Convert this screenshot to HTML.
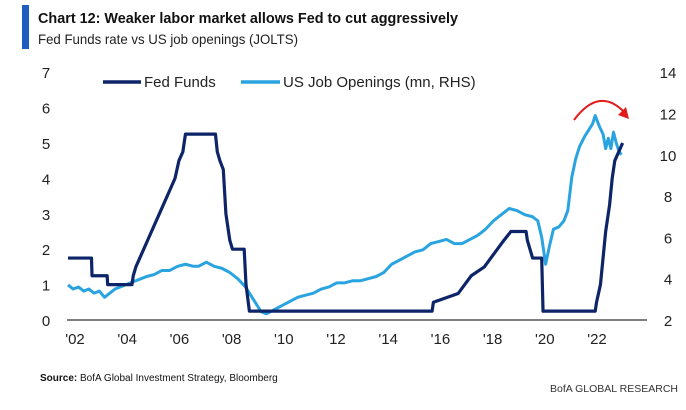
<!DOCTYPE html>
<html><head><meta charset="utf-8"><style>
body{margin:0;background:#fff;width:686px;height:405px;overflow:hidden;font-family:"Liberation Sans",sans-serif}
</style></head><body>
<svg width="686" height="405" xmlns="http://www.w3.org/2000/svg">
<rect x="22" y="5" width="7" height="44" fill="#1f5fbf"/>
<text x="38" y="23" font-size="14.5" font-weight="bold" fill="#111" textLength="420" lengthAdjust="spacingAndGlyphs">Chart 12: Weaker labor market allows Fed to cut aggressively</text>
<text x="38" y="44" font-size="14" fill="#222" textLength="260" lengthAdjust="spacingAndGlyphs">Fed Funds rate vs US job openings (JOLTS)</text>
<g id="axes"></g>
<g id="series"></g>
<g>
<line x1="103" y1="82" x2="141" y2="82" stroke="#0d2468" stroke-width="3.5"/>
<text x="144" y="87" font-size="15" fill="#222">Fed Funds</text>
<line x1="241" y1="82" x2="280" y2="82" stroke="#2aa4e0" stroke-width="3.5"/>
<text x="283" y="87" font-size="15" fill="#222">US Job Openings (mn, RHS)</text>
</g>
<path d="M574,120 Q600,85 626,114" fill="none" stroke="#e21b1b" stroke-width="2"/>
<polygon points="629,119 618,115 626,107" fill="#e21b1b"/>
<text x="40" y="381" font-size="10" fill="#111"><tspan font-weight="bold">Source:</tspan> BofA Global Investment Strategy, Bloomberg</text>
<text x="678" y="392" font-size="10.5" fill="#333" text-anchor="end">BofA GLOBAL RESEARCH</text>
</svg>
<script>
const leftTicks=[0,1,2,3,4,5,6,7];
const rightTicks=[2,4,6,8,10,12,14];
const xTicks=[2002,2004,2006,2008,2010,2012,2014,2016,2018,2020,2022];
const fedYears=[2002,2002.9,2002.92,2003.5,2003.52,2004.45,2004.5,2004.6,2004.75,2004.9,2005.05,2005.2,2005.35,2005.5,2005.65,2005.8,2005.95,2006.1,2006.25,2006.4,2006.5,2007.65,2007.72,2007.82,2007.95,2008.05,2008.2,2008.3,2008.75,2008.82,2008.95,2015.95,2016.0,2016.95,2017.2,2017.45,2017.95,2018.2,2018.45,2018.7,2018.97,2019.55,2019.6,2019.7,2019.8,2020.15,2020.2,2022.2,2022.25,2022.4,2022.5,2022.6,2022.75,2022.85,2022.95,2023.1,2023.25];
const fedValues=[1.75,1.75,1.25,1.25,1.0,1.0,1.25,1.5,1.75,2.0,2.25,2.5,2.75,3.0,3.25,3.5,3.75,4.0,4.5,4.75,5.25,5.25,4.75,4.5,4.25,3.0,2.25,2.0,2.0,1.0,0.25,0.25,0.5,0.75,1.0,1.25,1.5,1.75,2.0,2.25,2.5,2.5,2.25,2.0,1.75,1.75,0.25,0.25,0.5,1.0,1.75,2.5,3.25,4.0,4.5,4.75,5.0];
const jobYears=[2002,2002.2,2002.4,2002.6,2002.8,2003,2003.2,2003.4,2003.6,2003.8,2004,2004.2,2004.4,2004.6,2004.8,2005,2005.3,2005.6,2005.9,2006.2,2006.5,2006.8,2007,2007.3,2007.6,2007.9,2008.2,2008.5,2008.8,2009.1,2009.4,2009.6,2009.9,2010.2,2010.5,2010.8,2011.1,2011.4,2011.7,2012,2012.3,2012.6,2012.9,2013.2,2013.5,2013.8,2014.1,2014.4,2014.7,2015,2015.3,2015.6,2015.9,2016.2,2016.5,2016.8,2017.1,2017.4,2017.7,2018,2018.3,2018.6,2018.9,2019.2,2019.5,2019.8,2020.0,2020.15,2020.3,2020.45,2020.6,2020.8,2021.0,2021.15,2021.3,2021.45,2021.6,2021.8,2021.95,2022.1,2022.2,2022.35,2022.5,2022.6,2022.7,2022.8,2022.9,2023.0,2023.1,2023.2];
const jobValues=[3.7,3.5,3.6,3.4,3.5,3.3,3.4,3.1,3.3,3.5,3.6,3.7,3.8,3.9,4.0,4.1,4.2,4.4,4.4,4.6,4.7,4.6,4.6,4.8,4.6,4.5,4.3,4.0,3.6,3.0,2.4,2.3,2.5,2.7,2.9,3.1,3.2,3.3,3.5,3.6,3.8,3.8,3.9,3.9,4.0,4.1,4.3,4.7,4.9,5.1,5.3,5.4,5.7,5.8,5.9,5.7,5.7,5.9,6.1,6.4,6.8,7.1,7.4,7.3,7.1,7.0,6.8,6.0,4.7,5.6,6.4,6.5,6.8,7.3,8.9,9.8,10.4,10.9,11.2,11.5,11.9,11.4,11.0,10.3,10.8,10.3,11.1,10.6,10.2,10.0];
const NS="http://www.w3.org/2000/svg";
const x=t=>68+(t-2002)*26.1;
const yL=v=>320-v*35.4;
const yR=v=>320-(v-2)*20.65;
const ax=document.getElementById('axes'), se=document.getElementById('series');
function mk(tag,attrs,parent,txt){const e=document.createElementNS(NS,tag);for(const k in attrs)e.setAttribute(k,attrs[k]);if(txt!==undefined)e.textContent=txt;parent.appendChild(e);return e;}
const base=mk('line',{x1:67,x2:647,y1:320,y2:320,stroke:'#333','stroke-width':1.2},ax);


leftTicks.forEach(v=>{const t=mk('text',{x:46,y:yL(v)+6,'font-size':15,fill:'#222','text-anchor':'middle'},ax,String(v));

});
rightTicks.forEach(v=>{const t=mk('text',{x:668,y:yR(v)+6,'font-size':15,fill:'#222','text-anchor':'middle'},ax,String(v));

});
xTicks.forEach(v=>{const t=mk('text',{x:x(v)+7,y:344,'font-size':15,fill:'#222','text-anchor':'middle'},ax,"'"+String(v).slice(2));

});
const jp=mk('polyline',{points:jobYears.map((t,i)=>x(t)+','+yR(jobValues[i])).join(' '),fill:'none',stroke:'#2aa4e0','stroke-width':3,'stroke-linejoin':'round'},se);


const fp=mk('polyline',{points:fedYears.map((t,i)=>x(t)+','+yL(fedValues[i])).join(' '),fill:'none',stroke:'#0d2468','stroke-width':3.2,'stroke-linejoin':'round'},se);


</script>
</body></html>
